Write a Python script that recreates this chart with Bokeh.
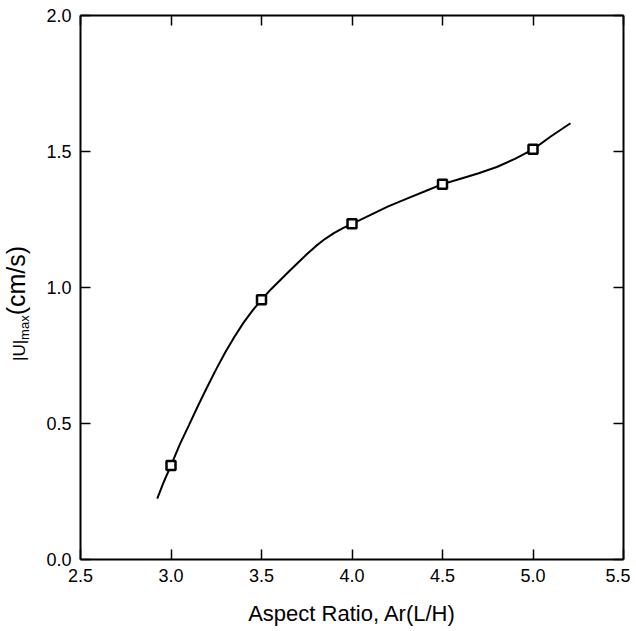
from bokeh.plotting import figure
from bokeh.models import Range1d, LinearAxis, FixedTicker, NumeralTickFormatter, Div
from bokeh.layouts import row, column
from bokeh.embed import file_html
from bokeh.resources import INLINE

# measured points
aspect_ratio = [3.0, 3.5, 4.0, 4.5, 5.0]
u_max = [0.346, 0.955, 1.234, 1.380, 1.508]

# fitted curve
curve_x = [2.924, 2.96, 3.0, 3.05, 3.1, 3.15, 3.2, 3.25, 3.3, 3.35, 3.4, 3.45, 3.5,
           3.55, 3.6, 3.65, 3.7, 3.75, 3.8, 3.85, 3.9, 3.95, 4.0, 4.1, 4.2, 4.3,
           4.4, 4.5, 4.6, 4.7, 4.8, 4.9, 5.0, 5.1, 5.207]
curve_y = [0.224, 0.285, 0.346, 0.425, 0.495, 0.566, 0.634, 0.700, 0.762, 0.818,
           0.870, 0.915, 0.955, 0.992, 1.025, 1.058, 1.090, 1.122, 1.152, 1.178,
           1.200, 1.218, 1.234, 1.266, 1.298, 1.326, 1.353, 1.380, 1.400, 1.420,
           1.443, 1.473, 1.508, 1.556, 1.604]

x_ticks = [2.5, 3.0, 3.5, 4.0, 4.5, 5.0, 5.5]
y_ticks = [0.0, 0.5, 1.0, 1.5, 2.0]

x_title = "Aspect Ratio, Ar(L/H)"
y_title_main = "|U|"
y_title_sub = "max"
y_title_unit = "(cm/s)"

FONT = "Liberation Sans"

p = figure(width=600, height=600, output_backend="svg", toolbar_location=None,
           x_range=Range1d(2.5, 5.5), y_range=Range1d(0, 2.0),
           x_axis_location=None, y_axis_location=None,
           min_border_left=50, min_border_right=7, min_border_top=15, min_border_bottom=41)
p.grid.visible = False
p.outline_line_color = None
p.background_fill_color = "white"
p.border_fill_color = "white"


def style_axis(ax, labels=True):
    ax.axis_line_color = "black"
    ax.axis_line_width = 2
    ax.major_tick_line_color = "black"
    ax.major_tick_line_width = 1.5
    ax.major_tick_in = 10
    ax.major_tick_out = 0
    ax.minor_tick_line_color = None
    ax.major_label_text_font = FONT
    ax.formatter = NumeralTickFormatter(format="0.0")
    if labels:
        ax.major_label_text_font_size = "18px"
        ax.major_label_text_color = "black"
    else:
        ax.major_label_text_font_size = "1px"
        ax.major_label_text_color = None
        ax.major_label_standoff = 0


bottom = LinearAxis(ticker=FixedTicker(ticks=x_ticks))
style_axis(bottom)
bottom.major_label_standoff = 9
p.add_layout(bottom, "below")

left = LinearAxis(ticker=FixedTicker(ticks=y_ticks))
style_axis(left)
left.major_label_standoff = 9
p.add_layout(left, "left")

top = LinearAxis(ticker=FixedTicker(ticks=x_ticks))
style_axis(top, labels=False)
p.add_layout(top, "above")

right = LinearAxis(ticker=FixedTicker(ticks=y_ticks))
style_axis(right, labels=False)
p.add_layout(right, "right")

p.line(curve_x, curve_y, line_color="black", line_width=2)
p.scatter(aspect_ratio, u_max, marker="square", size=9, fill_color="white",
          line_color="black", line_width=2.5)

# rotated y-axis title with a real subscript
ylab_html = (
    '<div style="position:absolute; left:4px; top:361px; transform:rotate(-90deg); '
    'transform-origin:0 0; white-space:nowrap; font-family:\'Liberation Sans\'; '
    'font-size:25px; line-height:25px; color:black;">'
    f'<span style="font-size:17px;">{y_title_main}</span>'
    f'<span style="font-size:13px; vertical-align:-4px;">{y_title_sub}</span>'
    f'<span style="font-size:25px;">{y_title_unit}</span></div>'
)
ylab = Div(text=ylab_html, width=30, height=600, margin=0)

# x-axis title
xlab_html = (
    '<div style="position:absolute; left:351.5px; top:3px; transform:translateX(-50%); '
    'white-space:nowrap; font-family:\'Liberation Sans\'; font-size:22px; '
    'line-height:22px; color:black;">'
    f'{x_title}</div>'
)
xlab = Div(text=xlab_html, width=630, height=31, margin=0)

layout = column(row(ylab, p, spacing=0), xlab, spacing=0)
open("out.html", "w").write(file_html(layout, INLINE))
